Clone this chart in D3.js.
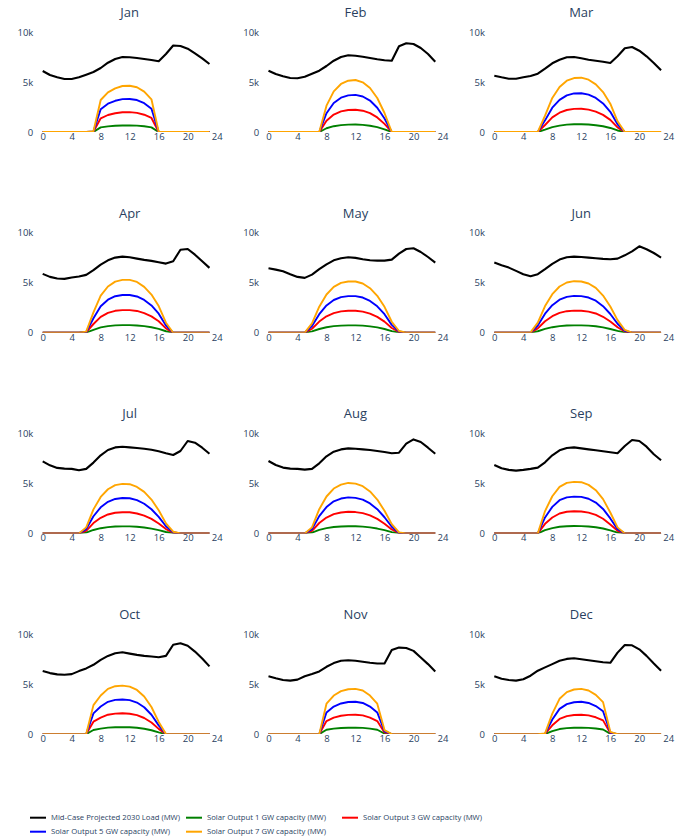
<!DOCTYPE html>
<html>
<head>
<meta charset="utf-8">
<script src="https://cdn.jsdelivr.net/npm/d3@7"></script>
<style>
  body { margin: 0; background: #fff; }
  svg { display: block; font-family: "Open Sans", "DejaVu Sans", sans-serif; }
</style>
</head>
<body>
<svg id="chart" width="675" height="837"></svg>
<script>
// ---- data: average hourly profiles per month (MW) ----
const months = ["Jan","Feb","Mar","Apr","May","Jun","Jul","Aug","Sep","Oct","Nov","Dec"];
const hours = d3.range(24);
const xTicks = [0, 4, 8, 12, 16, 20, 24];
const yTicks = [0, 5000, 10000];

const seriesNames = [
  "Mid-Case Projected 2030 Load (MW)",
  "Solar Output 1 GW capacity (MW)",
  "Solar Output 3 GW capacity (MW)",
  "Solar Output 5 GW capacity (MW)",
  "Solar Output 7 GW capacity (MW)"
];
const seriesColors = ["black", "green", "red", "blue", "orange"];

const load = [
  [6100,5700,5470,5300,5300,5470,5730,6000,6400,6930,7300,7500,7470,7400,7300,7200,7070,7800,8650,8600,8330,7870,7370,6800],
  [6130,5800,5570,5400,5370,5530,5830,6130,6600,7130,7500,7670,7630,7530,7400,7270,7170,7130,8570,8870,8800,8400,7800,7030],
  [5630,5470,5330,5330,5470,5600,5830,6330,6870,7230,7470,7500,7370,7230,7130,7030,6900,7570,8370,8500,8130,7570,6900,6170],
  [5880,5580,5420,5380,5520,5620,5780,6250,6810,7240,7510,7610,7540,7410,7280,7180,7040,6910,7140,8300,8370,7800,7140,6480],
  [6450,6310,6150,5850,5580,5480,5810,6350,6840,7240,7440,7540,7480,7340,7240,7210,7210,7310,7910,8370,8440,8070,7570,7010],
  [7010,6740,6510,6180,5850,5650,5850,6350,6880,7310,7540,7610,7570,7510,7440,7380,7340,7410,7740,8140,8640,8340,7970,7510],
  [7210,6810,6550,6480,6450,6310,6450,7080,7810,8340,8600,8670,8600,8540,8470,8370,8210,8010,7840,8240,9240,9070,8570,7970],
  [7240,6840,6580,6480,6450,6380,6450,7010,7710,8170,8400,8500,8470,8400,8340,8240,8140,8010,8070,8970,9400,9140,8570,7970],
  [6840,6510,6350,6280,6350,6450,6580,7110,7810,8310,8540,8600,8500,8400,8310,8210,8110,8010,8740,9340,9240,8670,7910,7310],
  [6300,6100,5970,5940,6000,6300,6570,6930,7430,7820,8090,8180,8050,7920,7820,7760,7690,7820,8940,9080,8840,8250,7560,6770],
  [5780,5580,5410,5350,5450,5780,6010,6270,6730,7100,7330,7390,7330,7230,7130,7060,7060,8400,8650,8610,8320,7660,7000,6270],
  [5780,5540,5410,5350,5480,5840,6340,6670,7000,7330,7520,7590,7490,7390,7290,7190,7130,8150,8910,8880,8480,7820,7060,6340]
];

const solar1GW = [
  [0,0,0,0,0,0,0,10,457,567,624,657,661,639,576,467,0,0,0,0,0,0,0,0],
  [0,0,0,0,0,0,0,0,376,581,686,733,743,710,629,486,271,0,0,0,0,0,0,0],
  [0,0,0,0,0,0,0,233,486,643,733,771,776,747,681,571,404,153,0,0,0,0,0,0],
  [0,0,0,0,0,0,15,290,530,660,730,754,754,725,655,545,380,143,0,0,0,0,0,0],
  [0,0,0,0,0,0,133,371,546,654,711,731,731,703,636,527,370,157,24,0,0,0,0,0],
  [0,0,0,0,0,5,143,380,550,660,717,736,731,703,641,531,374,180,39,0,0,0,0,0],
  [0,0,0,0,0,0,86,343,521,631,689,707,703,664,593,483,330,143,24,0,0,0,0,0],
  [0,0,0,0,0,0,86,346,527,641,697,721,711,674,599,484,323,133,14,0,0,0,0,0],
  [0,0,0,0,0,0,0,319,531,664,721,736,731,693,617,489,299,86,0,0,0,0,0,0],
  [0,0,0,0,0,0,0,414,551,646,684,693,679,631,537,387,174,0,0,0,0,0,0,0],
  [0,0,0,0,0,0,0,0,434,551,613,641,646,623,551,434,57,0,0,0,0,0,0,0],
  [0,0,0,0,0,0,0,10,293,504,599,637,646,623,561,457,33,0,0,0,0,0,0,0]
];

const solar3GW = [
  [0,0,0,0,0,0,0,30,1371,1701,1872,1971,1983,1917,1728,1401,0,0,0,0,0,0,0,0],
  [0,0,0,0,0,0,0,0,1128,1743,2058,2199,2229,2130,1887,1458,813,0,0,0,0,0,0,0],
  [0,0,0,0,0,0,0,699,1458,1929,2199,2313,2328,2241,2043,1713,1212,459,0,0,0,0,0,0],
  [0,0,0,0,0,0,45,870,1590,1980,2190,2262,2262,2175,1965,1635,1140,429,0,0,0,0,0,0],
  [0,0,0,0,0,0,399,1113,1638,1962,2133,2193,2193,2109,1908,1581,1110,471,72,0,0,0,0,0],
  [0,0,0,0,0,15,429,1140,1650,1980,2151,2208,2193,2109,1923,1593,1122,540,117,0,0,0,0,0],
  [0,0,0,0,0,0,258,1029,1563,1893,2067,2121,2109,1992,1779,1449,990,429,72,0,0,0,0,0],
  [0,0,0,0,0,0,258,1038,1581,1923,2091,2163,2133,2022,1797,1452,969,399,42,0,0,0,0,0],
  [0,0,0,0,0,0,0,957,1593,1992,2163,2208,2193,2079,1851,1467,897,258,0,0,0,0,0,0],
  [0,0,0,0,0,0,0,1242,1653,1938,2052,2079,2037,1893,1611,1161,522,0,0,0,0,0,0,0],
  [0,0,0,0,0,0,0,0,1302,1653,1839,1923,1938,1869,1653,1302,171,0,0,0,0,0,0,0],
  [0,0,0,0,0,0,0,30,879,1512,1797,1911,1938,1869,1683,1371,99,0,0,0,0,0,0,0]
];

const solar5GW = [
  [0,0,0,0,0,0,0,50,2285,2835,3120,3285,3305,3195,2880,2335,0,0,0,0,0,0,0,0],
  [0,0,0,0,0,0,0,0,1880,2905,3430,3665,3715,3550,3145,2430,1355,0,0,0,0,0,0,0],
  [0,0,0,0,0,0,0,1165,2430,3215,3665,3855,3880,3735,3405,2855,2020,765,0,0,0,0,0,0],
  [0,0,0,0,0,0,75,1450,2650,3300,3650,3770,3770,3625,3275,2725,1900,715,0,0,0,0,0,0],
  [0,0,0,0,0,0,665,1855,2730,3270,3555,3655,3655,3515,3180,2635,1850,785,120,0,0,0,0,0],
  [0,0,0,0,0,25,715,1900,2750,3300,3585,3680,3655,3515,3205,2655,1870,900,195,0,0,0,0,0],
  [0,0,0,0,0,0,430,1715,2605,3155,3445,3535,3515,3320,2965,2415,1650,715,120,0,0,0,0,0],
  [0,0,0,0,0,0,430,1730,2635,3205,3485,3605,3555,3370,2995,2420,1615,665,70,0,0,0,0,0],
  [0,0,0,0,0,0,0,1595,2655,3320,3605,3680,3655,3465,3085,2445,1495,430,0,0,0,0,0,0],
  [0,0,0,0,0,0,0,2070,2755,3230,3420,3465,3395,3155,2685,1935,870,0,0,0,0,0,0,0],
  [0,0,0,0,0,0,0,0,2170,2755,3065,3205,3230,3115,2755,2170,285,0,0,0,0,0,0,0],
  [0,0,0,0,0,0,0,50,1465,2520,2995,3185,3230,3115,2805,2285,165,0,0,0,0,0,0,0]
];

const solar7GW = [
  [0,0,0,0,0,0,0,70,3199,3969,4368,4599,4627,4473,4032,3269,0,0,0,0,0,0,0,0],
  [0,0,0,0,0,0,0,0,2632,4067,4802,5131,5201,4970,4403,3402,1897,0,0,0,0,0,0,0],
  [0,0,0,0,0,0,0,1631,3402,4501,5131,5397,5432,5229,4767,3997,2828,1071,0,0,0,0,0,0],
  [0,0,0,0,0,0,105,2030,3710,4620,5110,5278,5278,5075,4585,3815,2660,1001,0,0,0,0,0,0],
  [0,0,0,0,0,0,931,2597,3822,4578,4977,5117,5117,4921,4452,3689,2590,1099,168,0,0,0,0,0],
  [0,0,0,0,0,35,1001,2660,3850,4620,5019,5152,5117,4921,4487,3717,2618,1260,273,0,0,0,0,0],
  [0,0,0,0,0,0,602,2401,3647,4417,4823,4949,4921,4648,4151,3381,2310,1001,168,0,0,0,0,0],
  [0,0,0,0,0,0,602,2422,3689,4487,4879,5047,4977,4718,4193,3388,2261,931,98,0,0,0,0,0],
  [0,0,0,0,0,0,0,2233,3717,4648,5047,5152,5117,4851,4319,3423,2093,602,0,0,0,0,0,0],
  [0,0,0,0,0,0,0,2898,3857,4522,4788,4851,4753,4417,3759,2709,1218,0,0,0,0,0,0,0],
  [0,0,0,0,0,0,0,0,3038,3857,4291,4487,4522,4361,3857,3038,399,0,0,0,0,0,0,0],
  [0,0,0,0,0,0,0,70,2051,3528,4193,4459,4522,4361,3927,3199,231,0,0,0,0,0,0,0]
];

// draw order: load underneath, then solar from smallest to largest
const seriesData = [load, solar1GW, solar3GW, solar5GW, solar7GW];

// ---- layout ----
const svg = d3.select("#chart");
const textColor = "#2a3f5f";
const colX0 = 42.7, colStep = 225.8, plotW = 174;
const rowY0 = 132, rowStep = 200.7, plotH = 100;

const x = d3.scaleLinear().domain([0, 24]).range([0, plotW]);
const y = d3.scaleLinear().domain([0, 10000]).range([0, -plotH]);

const line = d3.line().x((d, i) => x(hours[i])).y(d => y(d));

// clip to the plotting area so the zero baseline is cut at the axis
svg.append("defs").append("clipPath").attr("id", "plotClip")
  .append("rect").attr("x", -2).attr("y", -plotH - 20).attr("width", plotW + 4).attr("height", plotH + 20);

months.forEach((m, mi) => {
  const col = mi % 3, row = Math.floor(mi / 3);
  const g = svg.append("g")
    .attr("transform", `translate(${colX0 + col * colStep},${rowY0 + row * rowStep})`);

  g.append("text")
    .attr("x", plotW / 2).attr("y", -115)
    .attr("text-anchor", "middle")
    .attr("font-size", 13).attr("fill", textColor)
    .text(m);

  const xAxis = g.append("g")
    .call(d3.axisBottom(x).tickValues(xTicks).tickSize(0).tickPadding(1.3));
  xAxis.select(".domain").remove();
  xAxis.selectAll("text").attr("font-size", 9.5).attr("fill", textColor)
    .attr("font-family", '"Open Sans", sans-serif');

  const yAxis = g.append("g")
    .call(d3.axisLeft(y).tickValues(yTicks).tickSize(0).tickPadding(9.4).tickFormat(d3.format("~s")));
  yAxis.select(".domain").remove();
  yAxis.selectAll("text").attr("font-size", 9.5).attr("fill", textColor)
    .attr("font-family", '"Open Sans", sans-serif');

  const lines = g.append("g").attr("clip-path", "url(#plotClip)");
  seriesData.forEach((s, si) => {
    lines.append("path")
      .datum(s[mi])
      .attr("d", line)
      .attr("fill", "none")
      .attr("stroke", seriesColors[si])
      .attr("stroke-width", si === 0 ? 2.1 : 1.9)
      .attr("stroke-linejoin", "round");
  });
});

// ---- legend ----
const legendCols = [30, 186, 342];
const legendRows = [817.7, 831.7];
const legendTextWidths = [129, 119, 119, 119, 119];
const legend = svg.append("g");
seriesNames.forEach((name, i) => {
  const lx = legendCols[i % 3], ly = legendRows[Math.floor(i / 3)];
  const item = legend.append("g").attr("transform", `translate(${lx},${ly})`);
  item.append("line")
    .attr("x1", 0).attr("x2", 16).attr("y1", 0).attr("y2", 0)
    .attr("stroke", seriesColors[i]).attr("stroke-width", 2);
  item.append("text")
    .attr("x", 21).attr("dy", "0.35em")
    .attr("font-size", 7.7).attr("fill", textColor)
    .attr("textLength", legendTextWidths[i])
    .attr("lengthAdjust", "spacingAndGlyphs")
    .text(name);
});
</script>
</body>
</html>
